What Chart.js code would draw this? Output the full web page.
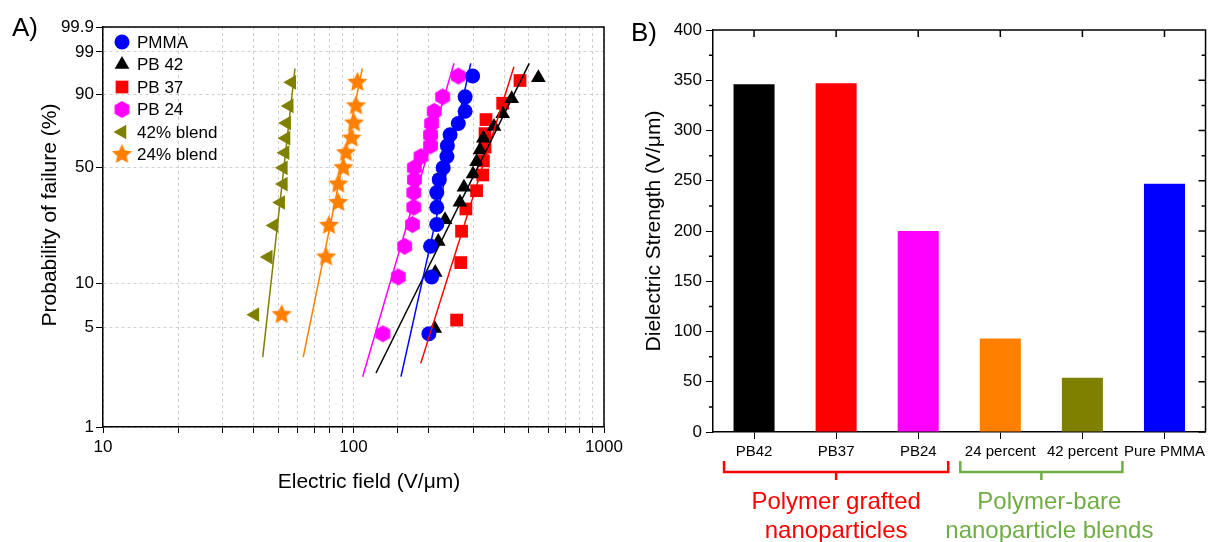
<!DOCTYPE html>
<html>
<head>
<meta charset="utf-8">
<script src="https://cdn.jsdelivr.net/npm/chart.js@4"></script>
<style>
  body { margin: 0; background: #fff; font-family: "Liberation Sans", Arial, sans-serif; }
  #wrap { position: relative; width: 1209px; height: 542px; overflow: hidden; }
  canvas { position: absolute; top: 0; }
  #cA { left: 0; }
  #cB { left: 620px; }
  .tag { position: absolute; font-size: 26px; line-height: 1; color: #000; }
</style>
</head>
<body>
<div id="wrap">
  <canvas id="cA" width="640" height="542"></canvas>
  <canvas id="cB" width="589" height="542"></canvas>
  <div class="tag" style="left:12px;top:14px">A)</div>
  <div class="tag" style="left:631px;top:19px">B)</div>
</div>
<script>
// ===== DATA: panel A (Weibull plot), field in V/um, failure probability in % =====
const fieldPMMA = [200, 205, 203, 215, 215, 215, 220, 228, 236, 237, 243, 262, 279, 279, 299];
const probPMMA  = [4.5, 11.0, 17.5, 24.0, 30.5, 37.0, 43.5, 50.0, 56.5, 63.0, 69.5, 76.0, 82.5, 89.0, 95.5];

const fieldPB42 = [211, 212, 218, 232, 266, 276, 300, 310, 320, 330, 364, 394, 428, 547];
const probPB42  = [4.9, 11.8, 18.8, 25.7, 32.6, 39.6, 46.5, 53.5, 60.4, 67.4, 74.3, 81.3, 88.2, 95.1];

const fieldPB37 = [258, 268, 270, 281, 310, 328, 330, 335, 335, 338, 394, 462];
const probPB37  = [5.6, 13.7, 21.8, 29.8, 37.9, 46.0, 54.0, 62.1, 70.2, 78.2, 86.3, 94.4];

const fieldPB24 = [131, 151, 160, 172, 174, 174, 175, 175, 186, 203, 203, 205, 210, 227, 262];
const probPB24  = [4.5, 11.0, 17.5, 24.0, 30.5, 37.0, 43.5, 50.0, 56.5, 63.0, 69.5, 76.0, 82.5, 89.0, 95.5];

const field42b = [40.4, 45.7, 48.2, 51.2, 52.5, 52.5, 53.3, 53.8, 54.1, 55.4, 56.7];
const prob42b  = [6.1, 14.9, 23.7, 32.5, 41.2, 50.0, 58.8, 67.5, 76.3, 85.1, 93.9];

const field24b = [51.7, 77.7, 79.8, 86.9, 86.9, 91.1, 93.3, 98.4, 100.5, 102.3, 103.6];
const prob24b  = [6.1, 14.9, 23.7, 32.5, 41.2, 50.0, 58.8, 67.5, 76.3, 85.1, 93.9];

// fitted Weibull lines: end points
const fitPMMAx = [154.7, 293.8], fitPMMAp = [2.26, 97.8];
const fitPB42x = [123, 503],     fitPB42p = [2.4, 97.8];
const fitPB37x = [185.5, 437],   fitPB37p = [2.8, 97.3];
const fitPB24x = [108.8, 252],   fitPB24p = [2.26, 97.8];
const fit42bx  = [43.4, 58.4],   fit42bp  = [3.1, 97.0];
const fit24bx  = [63.0, 108.4],  fit24bp  = [3.1, 97.0];

const yTickProbs  = [1, 5, 10, 50, 90, 99, 99.9];
const yTickLabels = ['1', '5', '10', '50', '90', '99', '99.9'];
const xTickLabels = [10, 100, 1000];

// ===== DATA: panel B (bars) =====
const barLabels = ['PB42', 'PB37', 'PB24', '24 percent', '42 percent', 'Pure PMMA'];
const barValues = [346, 347, 200, 93, 54, 247];
const barColors = ['#000000', '#ff0000', '#ff00ff', '#ff8000', '#808000', '#0000ff'];

const groupText  = [['Polymer grafted', 'nanoparticles'], ['Polymer-bare', 'nanoparticle blends']];
const groupColor = ['#ff0000', '#70ad47'];
const groupFrom  = [0, 3];
const groupTo    = [2, 4];

const FONT = '"Liberation Sans", Arial, sans-serif';
Chart.defaults.font.family = FONT;
Chart.defaults.color = '#000';

const weib = p => Math.log(-Math.log(1 - p / 100));
const pts = (xs, ps) => xs.map((x, i) => ({ x: x, y: weib(ps[i]) }));

function shapeCanvas(kind, r, color) {
  const c = document.createElement('canvas');
  const s = Math.ceil(2 * r + 2);
  c.width = c.height = s;
  const g = c.getContext('2d');
  g.fillStyle = color;
  g.beginPath();
  const n = kind === 'star' ? 10 : 6;
  for (let k = 0; k < n; k++) {
    const ang = -Math.PI / 2 + k * 2 * Math.PI / n;
    const rr = (kind === 'star' && k % 2) ? r * 0.48 : r;
    const px = s / 2 + rr * Math.cos(ang), py = s / 2 + rr * Math.sin(ang);
    if (k) g.lineTo(px, py); else g.moveTo(px, py);
  }
  g.closePath();
  g.fill();
  return c;
}

const hexMark = shapeCanvas('hex', 8.5, '#ff00ff');
const starMark = shapeCanvas('star', 10.5, '#ff8000');

function marks(label, xs, ps, color, style, radius, rotation) {
  return { label, data: pts(xs, ps), backgroundColor: color, borderWidth: 0,
    pointStyle: style, pointRadius: radius, pointRotation: rotation || 0, showLine: false };
}
function fit(xs, ps, color) {
  return { label: 'fit', data: pts(xs, ps), borderColor: color, borderWidth: 1.5,
    pointRadius: 0, showLine: true, fill: false };
}

// legend drawn inside the plot area
const legendA = {
  id: 'legendA',
  afterDatasetsDraw(chart) {
    const ctx = chart.ctx;
    const items = chart.data.datasets.filter(d => d.label !== 'fit');
    ctx.save();
    ctx.font = '17px ' + FONT;
    ctx.textBaseline = 'middle';
    items.forEach((d, i) => {
      const y = 42 + i * 22.5, x = 122;
      ctx.fillStyle = d.backgroundColor;
      if (d.pointStyle instanceof HTMLCanvasElement) {
        ctx.drawImage(d.pointStyle, x - d.pointStyle.width / 2, y - d.pointStyle.height / 2);
      } else {
        Chart.helpers.drawPoint(ctx, { pointStyle: d.pointStyle, radius: d.pointRadius,
          rotation: d.pointRotation, borderWidth: 0 }, x, y);
      }
      ctx.fillStyle = '#000';
      ctx.fillText(d.label, 137, y + 1);
    });
    ctx.restore();
  }
};

// closed frame + axis titles
const boxA = {
  id: 'boxA',
  afterDraw(chart) {
    const { ctx, chartArea: a } = chart;
    ctx.save();
    ctx.strokeStyle = '#000';
    ctx.lineWidth = 1.5;
    ctx.beginPath();
    ctx.moveTo(a.left, a.top);
    ctx.lineTo(a.right, a.top);
    ctx.lineTo(a.right, a.bottom);
    ctx.stroke();
    ctx.fillStyle = '#000';
    ctx.font = '21px ' + FONT;
    ctx.textAlign = 'center';
    ctx.textBaseline = 'middle';
    ctx.fillText('Electric field (V/μm)', 369, 482);
    ctx.translate(50, 215);
    ctx.rotate(-Math.PI / 2);
    ctx.fillText('Probability of failure (%)', 0, 0);
    ctx.restore();
  }
};

new Chart(document.getElementById('cA'), {
  type: 'scatter',
  data: {
    datasets: [
      fit(fitPMMAx, fitPMMAp, '#0000ff'),
      fit(fitPB42x, fitPB42p, '#000000'),
      fit(fitPB37x, fitPB37p, '#ff0000'),
      fit(fitPB24x, fitPB24p, '#ff00ff'),
      fit(fit42bx, fit42bp, '#808000'),
      fit(fit24bx, fit24bp, '#ff8000'),
      marks('PMMA', fieldPMMA, probPMMA, '#0000ff', 'circle', 7.5),
      marks('PB 42', fieldPB42, probPB42, '#000000', 'triangle', 8.5),
      marks('PB 37', fieldPB37, probPB37, '#ff0000', 'rect', 9),
      marks('PB 24', fieldPB24, probPB24, '#ff00ff', hexMark, 8.5),
      marks('42% blend', field42b, prob42b, '#808000', 'triangle', 8.5, -90),
      marks('24% blend', field24b, prob24b, '#ff8000', starMark, 10.5)
    ]
  },
  options: {
    responsive: false,
    animation: false,
    layout: { padding: { top: 27, right: 36, left: 0, bottom: 0 } },
    plugins: { legend: { display: false }, tooltip: { enabled: false } },
    scales: {
      x: {
        type: 'logarithmic', min: 10, max: 1000,
        grid: { color: '#cfcfcf', tickColor: '#000', tickLength: 6, lineWidth: 1 },
        border: { color: '#000', width: 1.5, dash: [3, 3] },
        ticks: {
          color: '#000', font: { size: 17 }, padding: 4, maxRotation: 0, autoSkip: false,
          callback: v => xTickLabels.some(t => Math.abs(t - v) < 1e-6) ? String(v) : ''
        },
        afterFit: s => { s.height = 115; }
      },
      y: {
        type: 'linear', min: weib(1), max: weib(99.9),
        afterBuildTicks: s => { s.ticks = yTickProbs.map(p => ({ value: weib(p) })); },
        grid: { color: '#cfcfcf', tickColor: '#000', tickLength: 7, lineWidth: 1 },
        border: { color: '#000', width: 1.5, dash: [3, 3] },
        ticks: { color: '#000', font: { size: 17 }, padding: 2, autoSkip: false,
          callback: (v, i) => yTickLabels[i] },
        afterFit: s => { s.width = 103; }
      }
    }
  },
  plugins: [legendA, boxA]
});

// ===== PANEL B =====
const boxB = {
  id: 'boxB',
  afterDraw(chart) {
    const { ctx, chartArea: a, scales: { x, y } } = chart;
    ctx.save();
    ctx.strokeStyle = '#000';
    ctx.lineWidth = 1.5;
    ctx.beginPath();
    ctx.moveTo(a.left, a.top);
    ctx.lineTo(a.right, a.top);
    ctx.lineTo(a.right, a.bottom);
    barLabels.forEach((_, i) => {
      const px = x.getPixelForValue(i);
      ctx.moveTo(px, a.top);
      ctx.lineTo(px, a.top + 7);
    });
    for (let v = y.min; v <= y.max; v += 25) {
      const py = y.getPixelForValue(v);
      const major = v % 50 === 0;
      ctx.moveTo(a.right, py);
      ctx.lineTo(a.right - (major ? 7 : 4), py);
      if (!major) { ctx.moveTo(a.left, py); ctx.lineTo(a.left - 4, py); }
    }
    ctx.stroke();

    // group brackets under the category labels
    const pads = [30, 40], shift = [0, 8];
    ctx.lineWidth = 2.5;
    ctx.font = '24px ' + FONT;
    ctx.textAlign = 'center';
    ctx.textBaseline = 'middle';
    groupText.forEach((lines, g) => {
      const x1 = x.getPixelForValue(groupFrom[g]) - pads[g];
      const x2 = x.getPixelForValue(groupTo[g]) + pads[g];
      const xm = (x1 + x2) / 2;
      ctx.strokeStyle = groupColor[g];
      ctx.fillStyle = groupColor[g];
      ctx.beginPath();
      ctx.moveTo(x1, 461); ctx.lineTo(x1, 472); ctx.lineTo(x2, 472); ctx.lineTo(x2, 461);
      ctx.moveTo(xm, 472); ctx.lineTo(xm, 480);
      ctx.stroke();
      lines.forEach((t, k) => ctx.fillText(t, xm + shift[g], 502 + k * 29));
    });
    ctx.restore();
  }
};

new Chart(document.getElementById('cB'), {
  type: 'bar',
  data: {
    labels: barLabels,
    datasets: [{ data: barValues, backgroundColor: barColors, borderWidth: 0,
      barPercentage: 0.5, categoryPercentage: 1 }]
  },
  options: {
    responsive: false,
    animation: false,
    layout: { padding: { top: 30, right: 1, left: 0, bottom: 0 } },
    plugins: { legend: { display: false }, tooltip: { enabled: false } },
    scales: {
      x: {
        grid: { display: true, drawOnChartArea: false, offset: false, tickColor: '#000', tickLength: 7 },
        border: { color: '#000', width: 1.5 },
        ticks: { color: '#000', font: { size: 15 }, padding: 4, autoSkip: false, maxRotation: 0 },
        afterFit: s => { s.height = 110; }
      },
      y: {
        min: 0, max: 400,
        grid: { drawOnChartArea: false, tickColor: '#000', tickLength: 7 },
        border: { color: '#000', width: 1.5 },
        ticks: { stepSize: 50, color: '#000', font: { size: 17 }, padding: 4 },
        title: { display: true, text: 'Dielectric Strength (V/μm)', color: '#000', font: { size: 21 },
          padding: { top: 22 } },
        afterFit: s => { s.width = 93; }
      }
    }
  },
  plugins: [boxB]
});
</script>
</body>
</html>
